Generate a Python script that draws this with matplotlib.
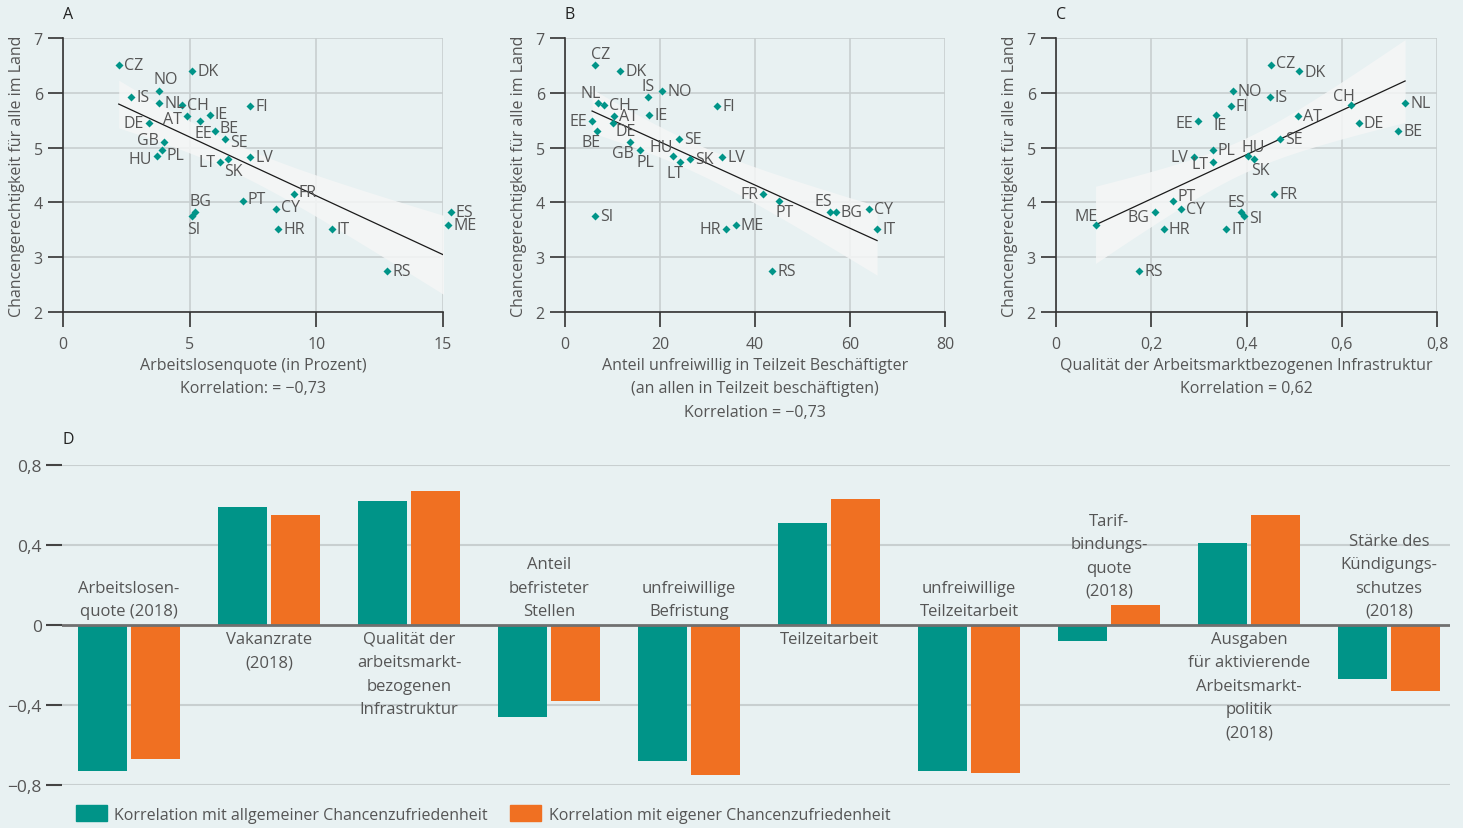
import numpy as np
import matplotlib
matplotlib.use("Agg")
import matplotlib.pyplot as plt
from matplotlib.patches import Patch
from matplotlib.ticker import FuncFormatter

# --- data -------------------------------------------------------------
countries = ['CZ', 'DK', 'NO', 'IS', 'NL', 'CH', 'FI', 'IE', 'AT', 'EE', 'DE', 'BE', 'SE', 'GB', 'PL',
             'HU', 'LV', 'SK', 'LT', 'FR', 'PT', 'CY', 'ES', 'BG', 'SI', 'ME', 'HR', 'IT', 'RS']
# Chancengerechtigkeit fuer alle im Land (y in A, B, C)
fairness = [6.50, 6.39, 6.03, 5.92, 5.82, 5.78, 5.76, 5.60, 5.57, 5.48, 5.45, 5.30, 5.15, 5.10, 4.96,
            4.84, 4.83, 4.79, 4.73, 4.16, 4.02, 3.88, 3.82, 3.82, 3.76, 3.58, 3.52, 3.51, 2.75]
# A: Arbeitslosenquote
unemployment = [2.2, 5.1, 3.8, 2.7, 3.8, 4.7, 7.4, 5.8, 4.9, 5.4, 3.4, 6.0, 6.4, 4.0, 3.9,
                3.7, 7.4, 6.5, 6.2, 9.1, 7.1, 8.4, 15.3, 5.2, 5.1, 15.2, 8.5, 10.6, 12.8]
# B: Anteil unfreiwillig Teilzeitbeschaeftigter
invol_parttime = [6.4, 11.6, 20.5, 17.4, 6.9, 8.2, 32.1, 17.7, 10.4, 5.7, 10.1, 6.7, 24.1, 13.6, 15.8,
                  22.8, 33.1, 26.4, 24.3, 41.7, 45.1, 63.9, 55.8, 57.0, 6.4, 36.0, 33.8, 65.7, 43.6]
# C: Qualitaet der arbeitsmarktbezogenen Infrastruktur (kein Wert fuer GB)
infrastructure = [0.451, 0.511, 0.371, 0.449, 0.733, 0.619, 0.367, 0.336, 0.509, 0.299, 0.636, 0.719, 0.471,
                  np.nan, 0.329, 0.403, 0.289, 0.416, 0.330, 0.458, 0.245, 0.263, 0.389, 0.207, 0.395,
                  0.083, 0.226, 0.357, 0.175]

# D: Korrelationen
bar_labels = ['Arbeitslosen-\nquote (2018)', 'Vakanzrate\n(2018)',
              'Qualität der\narbeitsmarkt-\nbezogenen\nInfrastruktur',
              'Anteil\nbefristeter\nStellen', 'unfreiwillige\nBefristung', 'Teilzeitarbeit',
              'unfreiwillige\nTeilzeitarbeit', 'Tarif-\nbindungs-\nquote\n(2018)',
              'Ausgaben\nfür aktivierende\nArbeitsmarkt-\npolitik\n(2018)',
              'Stärke des\nKündigungs-\nschutzes\n(2018)']
corr_general = [-0.73, 0.59, 0.62, -0.46, -0.68, 0.51, -0.73, -0.08, 0.41, -0.27]
corr_own = [-0.67, 0.55, 0.67, -0.38, -0.75, 0.63, -0.74, 0.10, 0.55, -0.33]
legend_labels = ['Korrelation mit allgemeiner Chancenzufriedenheit',
                 'Korrelation mit eigener Chancenzufriedenheit']

# --- style ------------------------------------------------------------
BG = '#e8f1f2'
TEAL = '#009488'
ORANGE = '#f07022'
GRID = '#c8cfd0'
TXT = '#555555'
SC_FONT = ['Open Sans', 'DejaVu Sans']
BAR_FONT = ['Open Sans', 'DejaVu Sans']
FS = 11.5

W, H = 1463, 829
fig = plt.figure(figsize=(W / 100, H / 100), dpi=100, facecolor=BG)


def comma(v, pos=None):
    return f'{v:g}'.replace('.', ',').replace('-', '\u2212')


# label placement per panel: (dx px, dy px, ha); default right of marker
R = (5, 0, 'left')
offs_A = {'NO': (6, 12, 'center'), 'IE': (5, 1, 'left'), 'AT': (-5, -3, 'right'), 'EE': (4, -12, 'center'),
          'DE': (-5, 0, 'right'), 'BE': (5, 3, 'left'), 'SE': (5, -3, 'left'), 'GB': (-5, 2, 'right'),
          'PL': (5, -5, 'left'), 'HU': (-5, -3, 'right'), 'SK': (6, -12, 'center'), 'LT': (-5, 0, 'right'),
          'FR': (5, 2, 'left'), 'PT': (5, 2, 'left'), 'CY': (5, 2, 'left'), 'BG': (6, 11, 'center'),
          'SI': (1, -13, 'center')}
offs_B = {'CZ': (5, 11, 'center'), 'IS': (0, 11, 'center'), 'NL': (-7, 10, 'center'), 'EE': (-5, 0, 'right'),
          'DE': (3, -8, 'left'), 'BE': (-6, -11, 'center'), 'HU': (-12, 9, 'center'),
          'GB': (-7, -11, 'center'), 'PL': (5, -12, 'center'), 'LT': (-5, -11, 'center'),
          'FR': (-5, 0, 'right'), 'PT': (5, -11, 'center'), 'ES': (-7, 11, 'center'),
          'HR': (-5, 0, 'right')}
offs_C = {'CZ': (5, 2, 'left'), 'DK': (5, -1, 'left'), 'CH': (-7, 9, 'center'), 'IE': (4, -10, 'center'),
          'EE': (-5, -2, 'right'), 'HU': (5, 9, 'center'), 'LV': (-5, 0, 'right'), 'LT': (-5, -2, 'right'),
          'SK': (6, -11, 'center'), 'PT': (5, 5, 'left'), 'ES': (-5, 10, 'center'), 'SI': (5, -2, 'left'),
          'BG': (-5, -5, 'right'), 'ME': (-9, 9, 'center')}


def scatter_panel(left, width, xvals, offs, xlim, xticks, xlabel, letter):
    ax = fig.add_axes([left / W, 1 - 313 / H, width / W, 274 / H])
    ax.set_facecolor(BG)
    x = np.array(xvals, dtype=float)
    y = np.array(fairness)
    m = ~np.isnan(x)
    xx, yy = x[m], y[m]

    # regression line with 95% band
    b, a = np.polyfit(xx, yy, 1)
    xs = np.linspace(xx.min(), xx.max(), 100)
    n = len(xx)
    s = np.sqrt(np.sum((yy - (a + b * xx)) ** 2) / (n - 2))
    sxx = np.sum((xx - xx.mean()) ** 2)
    ci = 2.05 * s * np.sqrt(1 / n + (xs - xx.mean()) ** 2 / sxx)
    ax.fill_between(xs, a + b * xs - ci, a + b * xs + ci, color='#f5f6f6', alpha=0.85, lw=0, zorder=1.5)
    ax.plot(xs, a + b * xs, color='#1a1a1a', lw=0.9, zorder=2)

    ax.plot(xx, yy, 'D', color=TEAL, ms=3.8, mec='none', zorder=3, clip_on=False)
    for c, xi, yi in zip(np.array(countries)[m], xx, yy):
        dx, dy, ha = offs.get(c, R)
        ax.annotate(c, (xi, yi), xytext=(dx, dy), textcoords='offset pixels', ha=ha, va='center',
                    fontsize=FS, color=TXT, family=SC_FONT, zorder=4, annotation_clip=False)

    ax.set_xlim(*xlim)
    ax.set_ylim(2, 7)
    ax.set_xticks(xticks)
    ax.set_yticks(range(2, 8))
    ax.xaxis.set_major_formatter(FuncFormatter(comma))
    ax.grid(True, color=GRID, lw=1.2)
    ax.set_axisbelow(True)
    for sp in ['top', 'right']:
        ax.spines[sp].set_visible(False)
    for sp in ['left', 'bottom']:
        ax.spines[sp].set_color('#333333')
        ax.spines[sp].set_linewidth(1.2)
    ax.tick_params(length=11, width=1.2, color='#333333', labelsize=FS, labelcolor=TXT)
    ax.tick_params(axis='x', pad=6.5)
    ax.tick_params(axis='y', pad=3.5)
    for lab in ax.get_xticklabels() + ax.get_yticklabels():
        lab.set_family(SC_FONT)
    ax.text(0.5, -45 / 274, xlabel, transform=ax.transAxes, ha='center', va='top', fontsize=FS,
            color=TXT, family=SC_FONT, linespacing=1.62)
    ax.text(-46 / width, 0.5, 'Chancengerechtigkeit für alle im Land', transform=ax.transAxes,
            rotation=90, ha='center', va='center', fontsize=FS, color=TXT, family=SC_FONT)
    ax.text(0.0, 1 + 24 / 274, letter, transform=ax.transAxes, ha='left', va='center',
            fontsize=11.5, color='#222222', family=SC_FONT)
    return ax


scatter_panel(63, 380, unemployment, offs_A, (0, 15), [0, 5, 10, 15],
              'Arbeitslosenquote (in Prozent)\nKorrelation: = \u22120,73', 'A')
scatter_panel(565, 380, invol_parttime, offs_B, (0, 80), [0, 20, 40, 60, 80],
              'Anteil unfreiwillig in Teilzeit Beschäftigter\n(an allen in Teilzeit beschäftigten)\n'
              'Korrelation = \u22120,73', 'B')
scatter_panel(1056, 381, infrastructure, offs_C, (0, 0.8), [0, 0.2, 0.4, 0.6, 0.8],
              'Qualität der Arbeitsmarktbezogenen Infrastruktur\nKorrelation = 0,62', 'C')

# --- panel D ----------------------------------------------------------
axd = fig.add_axes([62 / W, 1 - 786 / H, 1388 / W, 320 / H])
axd.set_facecolor(BG)
pos = np.arange(len(bar_labels))
axd.bar(pos - 0.19, corr_general, width=0.353, color=TEAL, zorder=2)
axd.bar(pos + 0.19, corr_own, width=0.353, color=ORANGE, zorder=2)
axd.axhline(0, color='#707070', lw=2, zorder=3)
for v in [-0.8, -0.4, 0.4, 0.8]:
    axd.axhline(v, color=GRID, lw=1.5, zorder=1)
axd.set_xlim(-0.479, 9.436)
axd.set_ylim(-0.8, 0.8)
axd.set_yticks([-0.8, -0.4, 0, 0.4, 0.8])
axd.yaxis.set_major_formatter(FuncFormatter(comma))
axd.set_xticks([])
for sp in axd.spines.values():
    sp.set_visible(False)
axd.tick_params(axis='y', length=11.5, width=1.5, color='#444444', labelsize=12.5, labelcolor=TXT, pad=3)
for lab in axd.get_yticklabels():
    lab.set_family(BAR_FONT)

for i, lab in enumerate(bar_labels):
    if corr_general[i] < 0:
        axd.text(i, max(0, corr_general[i], corr_own[i]) + 0.03, lab, ha='center', va='bottom',
                 fontsize=12, color=TXT, family=BAR_FONT, linespacing=1.62, zorder=4)
    else:
        axd.text(i, min(0, corr_general[i], corr_own[i]) - 0.03, lab, ha='center', va='top',
                 fontsize=12, color=TXT, family=BAR_FONT, linespacing=1.62, zorder=4)
axd.text(0, 1 + 26 / 320, 'D', transform=axd.transAxes, ha='left', va='center', fontsize=11.5,
         color='#222222', family=SC_FONT)

fig.legend(handles=[Patch(color=TEAL, label=legend_labels[0]), Patch(color=ORANGE, label=legend_labels[1])],
           loc='center left', bbox_to_anchor=(76 / W, 1 - 815 / H), ncol=2, frameon=False,
           handlelength=1.95, handleheight=1.1, handletextpad=0.45, columnspacing=1.4,
           borderpad=0, borderaxespad=0, labelcolor=TXT, prop={'family': BAR_FONT, 'size': 11.5})

fig.savefig('out.png', dpi=100, facecolor=BG)
